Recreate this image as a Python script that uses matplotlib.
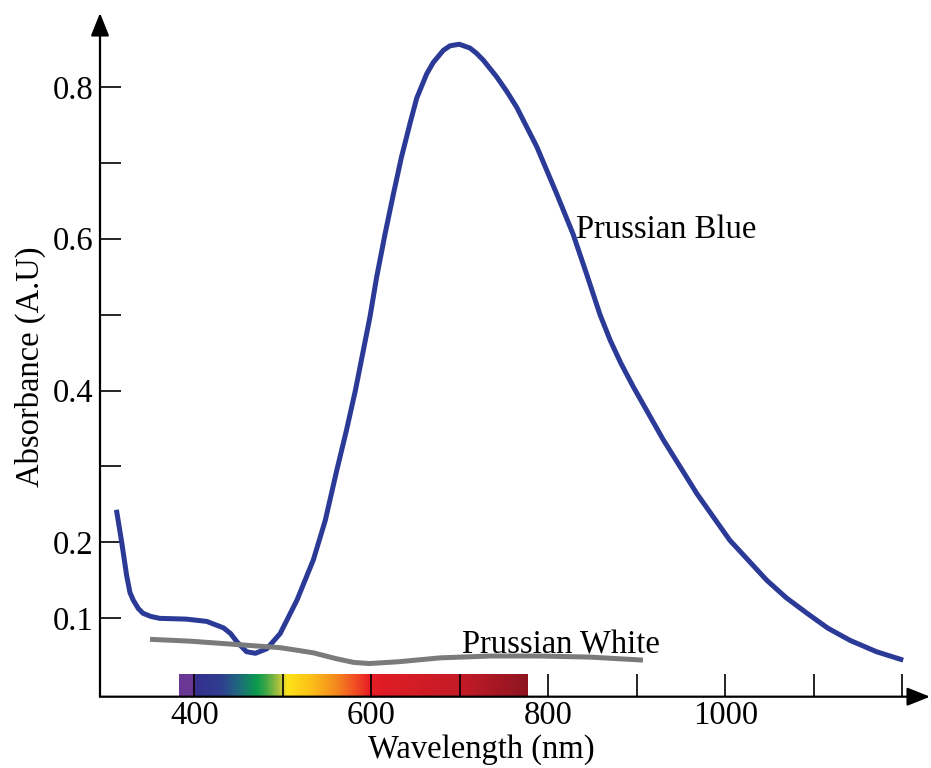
import numpy as np
import matplotlib
matplotlib.use("Agg")
import matplotlib.pyplot as plt
from matplotlib.colors import LinearSegmentedColormap

plt.rcParams['font.family'] = ['Liberation Serif', 'DejaVu Serif']

# ---------------- data ----------------
pb_wavelength = [312, 318, 323.6, 327.3, 331, 336.7, 342, 351, 361, 376, 391, 414, 433, 441,
                 448, 459, 469, 482, 497, 516, 534.5, 548, 561, 572, 582, 591, 598.5, 606,
                 615.5, 625, 634, 644, 651.3, 662.6, 670, 681.4, 689, 699.4, 711.5, 719,
                 726.6, 741.7, 753, 764.3, 787, 809.5, 828, 843.4, 858.4, 870, 882, 896,
                 930, 968, 1005, 1047, 1069, 1092, 1116, 1141, 1171, 1201]
pb_absorbance = [0.243, 0.200, 0.156, 0.134, 0.124, 0.113, 0.1067, 0.1025, 0.100, 0.0995,
                 0.0990, 0.0960, 0.0875, 0.080, 0.0693, 0.0561, 0.054, 0.060, 0.080, 0.124,
                 0.177, 0.229, 0.295, 0.348, 0.400, 0.453, 0.497, 0.549, 0.606, 0.659,
                 0.707, 0.753, 0.785, 0.817, 0.832, 0.848, 0.854, 0.856, 0.851, 0.844,
                 0.835, 0.813, 0.794, 0.773, 0.721, 0.659, 0.606, 0.553, 0.500, 0.466,
                 0.436, 0.405, 0.335, 0.264, 0.203, 0.150, 0.127, 0.107, 0.087, 0.071,
                 0.056, 0.045]

pw_wavelength = [350, 395, 452, 497, 519, 535, 560, 580, 598, 632, 678, 734, 790, 847, 907]
pw_absorbance = [0.0724, 0.0700, 0.0652, 0.0614, 0.0575, 0.0545, 0.047, 0.042, 0.0405,
                 0.043, 0.048, 0.0504, 0.0504, 0.049, 0.045]

x_ticks = [400, 500, 600, 700, 800, 900, 1000, 1100, 1200]
x_ticklabels = ['400', '', '600', '', '800', '', '1000', '', '']
y_ticks = [0.1, 0.2, 0.3, 0.4, 0.5, 0.6, 0.7, 0.8]
y_ticklabels = ['0.1', '0.2', '', '0.4', '', '0.6', '', '0.8']

spectrum_nm = [383, 399, 401, 430, 450, 470, 480, 495, 500, 505, 530, 560, 585, 598, 610, 700, 777]
spectrum_colors = ['#6a3795', '#6a3795', '#35308f', '#2f3e8e', '#1f6a7d', '#0a9a4e', '#3aa648',
                   '#a8bf3e', '#d6d23a', '#fde318', '#fcc318', '#f58a1f', '#ef4524', '#e81e25',
                   '#e01d25', '#c41b27', '#8e1520']

# ---------------- figure ----------------
W, H = 931, 768
fig = plt.figure(figsize=(W / 100, H / 100), dpi=100)

px_per_nm = 0.885
x400_px = 194.3
zero_px = 694.3
px_per_abs = 759.4

left_px, right_px = 100, 930
bottom_px, top_px = 696.7, 13

def px2nm(p):
    return 400 + (p - x400_px) / px_per_nm

def py2abs(p):
    return (zero_px - p) / px_per_abs

ax = fig.add_axes([left_px / W, 1 - bottom_px / H,
                   (right_px - left_px) / W, (bottom_px - top_px) / H])
xlim = (px2nm(left_px), px2nm(right_px))
ylim = (py2abs(bottom_px), py2abs(top_px))

# spectrum bar
lo, hi = spectrum_nm[0], spectrum_nm[-1]
stops = [((v - lo) / (hi - lo), c) for v, c in zip(spectrum_nm, spectrum_colors)]
cmap = LinearSegmentedColormap.from_list('spec', stops)
grad = np.linspace(0, 1, 800)[None, :]
ax.imshow(grad, extent=[lo, hi, ylim[0], py2abs(674)], aspect='auto', cmap=cmap,
          zorder=1, interpolation='bilinear')

ax.plot(pb_wavelength, pb_absorbance, color='#2b3a97', lw=3.6, zorder=3,
        solid_capstyle='butt', solid_joinstyle='round')
ax.plot(pw_wavelength, pw_absorbance, color='#7b7b7b', lw=3.6, zorder=4,
        solid_capstyle='butt', solid_joinstyle='round')

ax.set_xlim(*xlim)
ax.set_ylim(*ylim)

for s in ax.spines.values():
    s.set_visible(False)

ax.set_xticks(x_ticks)
ax.set_xticklabels(x_ticklabels)
ax.set_yticks(y_ticks)
ax.set_yticklabels(y_ticklabels)
ax.tick_params(axis='x', direction='in', length=16.5, width=1.2, pad=3,
               labelsize=23.5, colors='black', zorder=5)
ax.tick_params(axis='y', direction='in', length=15, width=1.2, pad=5,
               labelsize=23.5, colors='black')
for t in ax.xaxis.get_major_ticks():
    t.tick1line.set_zorder(6)

# axis arrows
arrow_kw = dict(arrowstyle='-|>,head_length=0.7,head_width=0.28', lw=1.6, color='black',
                shrinkA=0, shrinkB=0, mutation_scale=20)
ax.annotate('', xy=(1, 0), xytext=(0, 0), xycoords='axes fraction',
            arrowprops=arrow_kw, annotation_clip=False)
ax.annotate('', xy=(0, 1), xytext=(0, 0), xycoords='axes fraction',
            arrowprops=arrow_kw, annotation_clip=False)

# annotations
ax.text(px2nm(576), py2abs(238), 'Prussian Blue', fontsize=23.5, ha='left', va='baseline')
ax.text(px2nm(461.7), py2abs(653), 'Prussian White', fontsize=23.5, ha='left', va='baseline')

fig.text(481 / W, 1 - 758 / H, 'Wavelength (nm)', fontsize=23.5, ha='center', va='baseline')
fig.text(30 / W, 1 - 367 / H, 'Absorbance (A.U)', fontsize=23.5, rotation=90,
         ha='center', va='center')

fig.savefig('out.png', dpi=100)
